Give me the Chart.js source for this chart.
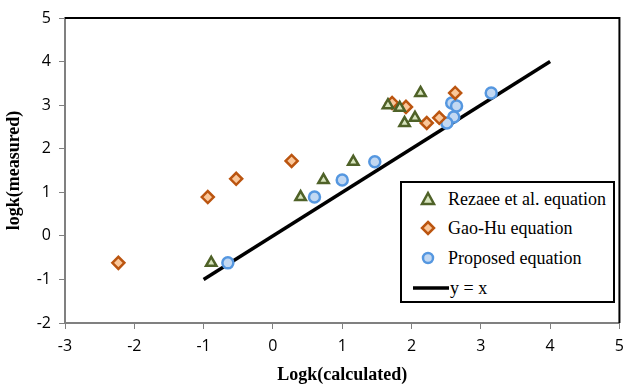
<!DOCTYPE html>
<html>
<head>
<meta charset="utf-8">
<script src="https://cdn.jsdelivr.net/npm/chart.js@4/dist/chart.umd.min.js"></script>
<style>
  html, body { margin: 0; padding: 0; background: #fff; overflow: hidden; }
  #wrap { position: relative; width: 627px; height: 390px; overflow: hidden; }
  #legend {
    position: absolute; left: 400px; top: 181px; width: 211px; height: 118px;
    border: 2px solid #000; background: #fff; box-sizing: content-box;
    font-family: "Liberation Serif", "Times New Roman", serif; font-size: 18px; color: #000;
  }
  .item { position: absolute; left: 0; height: 20px; line-height: 20px; white-space: nowrap; }
  .item svg { position: absolute; top: 0; }
  .item span { position: absolute; left: 46px; top: 0; }
</style>
</head>
<body>
<div id="wrap">
  <canvas id="c" width="632" height="390"></canvas>
  <div id="legend"></div>
</div>
<script>
// ---- data ----
const rezaeeX = [-0.89, 0.40, 0.73, 1.16, 1.66, 1.83, 1.90, 2.05, 2.13];
const rezaeeY = [-0.62, 0.89, 1.28, 1.70, 3.00, 2.94, 2.59, 2.71, 3.28];
const gaoHuX  = [-2.23, -0.94, -0.53, 0.27, 1.72, 1.92, 2.22, 2.40, 2.63];
const gaoHuY  = [-0.62, 0.89, 1.31, 1.72, 3.05, 2.96, 2.59, 2.71, 3.28];
const proposedX = [-0.65, 0.60, 1.00, 1.47, 2.58, 2.65, 2.61, 2.51, 3.15];
const proposedY = [-0.62, 0.89, 1.28, 1.70, 3.05, 2.98, 2.73, 2.59, 3.28];
const lineX = [-1, 4];
const lineY = [-1, 4];
const seriesNames = ["Rezaee et al. equation", "Gao-Hu equation", "Proposed equation", "y = x"];
const xTicks = [-3, -2, -1, 0, 1, 2, 3, 4, 5];
const yTicks = [-2, -1, 0, 1, 2, 3, 4, 5];

const pts = (xs, ys) => xs.map((x, i) => ({ x: x, y: ys[i] }));

const frame = {
  id: 'frame',
  afterDraw(chart) {
    const { ctx, chartArea: a } = chart;
    ctx.save();
    ctx.strokeStyle = '#000';
    ctx.lineWidth = 2;
    ctx.beginPath();
    ctx.moveTo(a.left, a.top);
    ctx.lineTo(a.right, a.top);
    ctx.lineTo(a.right, a.bottom);
    ctx.stroke();
    ctx.restore();
  }
};

new Chart(document.getElementById('c'), {
  type: 'scatter',
  data: {
    datasets: [
      { label: seriesNames[3], type: 'line', data: pts(lineX, lineY), borderColor: '#000', borderWidth: 3.5,
        pointRadius: 0, fill: false, order: 4 },
      { label: seriesNames[0], data: pts(rezaeeX, rezaeeY), pointStyle: 'triangle', pointRadius: 6,
        borderColor: '#4f6228', backgroundColor: '#d7e4bd', borderWidth: 2.5, order: 1 },
      { label: seriesNames[1], data: pts(gaoHuX, gaoHuY), pointStyle: 'rectRot', pointRadius: 6,
        borderColor: '#bb5510', backgroundColor: '#fac79a', borderWidth: 2.5, order: 2 },
      { label: seriesNames[2], data: pts(proposedX, proposedY), pointStyle: 'circle', pointRadius: 5.5,
        borderColor: '#5597e0', backgroundColor: '#c2d8f2', borderWidth: 2.5, order: 3 }
    ]
  },
  options: {
    responsive: false,
    animation: false,
    layout: { padding: { top: 18, right: 5, left: 0, bottom: 0 } },
    plugins: { legend: { display: false }, tooltip: { enabled: false } },
    scales: {
      x: {
        type: 'linear', min: -3, max: 5,
        afterBuildTicks: s => { s.ticks = xTicks.map(v => ({ value: v })); },
        afterFit: s => { s.height = 67; },
        border: { display: true, color: '#808080', width: 2 },
        grid: { drawOnChartArea: false, drawTicks: true, tickLength: 6, color: '#808080', lineWidth: 1 },
        ticks: { color: '#000', padding: 8, font: { family: 'Open Sans', size: 16 }, maxRotation: 0 },
        title: { display: true, text: 'Logk(calculated)', color: '#000', padding: { top: 6 },
          font: { family: 'Liberation Serif', size: 18, weight: 'bold' } }
      },
      y: {
        type: 'linear', min: -2, max: 5,
        afterBuildTicks: s => { s.ticks = yTicks.map(v => ({ value: v })); },
        afterFit: s => { s.width = 65; },
        border: { display: true, color: '#808080', width: 2 },
        grid: { drawOnChartArea: false, drawTicks: true, tickLength: 6, color: '#808080', lineWidth: 1 },
        ticks: { color: '#000', padding: 8, font: { family: 'Open Sans', size: 16 } },
        title: { display: true, text: 'logk(measured)', color: '#000', padding: { bottom: 6 },
          font: { family: 'Liberation Serif', size: 18, weight: 'bold' } }
      }
    }
  },
  plugins: [frame]
});

// ---- HTML legend ----
const legend = document.getElementById('legend');
const markers = [
  '<svg width="20" height="20" style="left:16px"><polygon points="10,4 16,15 4,15" fill="#d7e4bd" stroke="#4f6228" stroke-width="2.5"/></svg>',
  '<svg width="20" height="20" style="left:16px"><polygon points="10,4 16,10 10,16 4,10" fill="#fac79a" stroke="#bb5510" stroke-width="2.5"/></svg>',
  '<svg width="20" height="20" style="left:16px"><circle cx="10" cy="10" r="5" fill="#c2d8f2" stroke="#5597e0" stroke-width="2.5"/></svg>',
  '<svg width="40" height="20" style="left:9px"><line x1="2" y1="10" x2="38" y2="10" stroke="#000" stroke-width="3.5"/></svg>'
];
const tops = [6, 35, 65, 95];
seriesNames.forEach((n, i) => {
  const d = document.createElement('div');
  d.className = 'item';
  d.style.top = tops[i] + 'px';
  d.innerHTML = markers[i] + '<span' + (i === 3 ? ' style="left:48px"' : '') + '>' + n + '</span>';
  legend.appendChild(d);
});
</script>
</body>
</html>
